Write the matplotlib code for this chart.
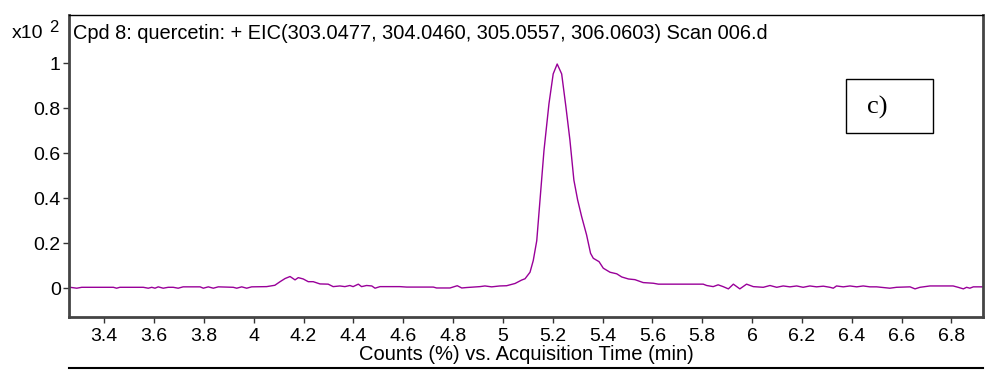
import matplotlib
matplotlib.use('Agg')
import matplotlib.pyplot as plt
from matplotlib.lines import Line2D
from matplotlib.patches import Rectangle
from matplotlib.ticker import FormatStrFormatter

plt.rcParams['font.family'] = ['Liberation Sans', 'DejaVu Sans']

# acquisition time (min) and counts (x10^2)
time = [3.263, 3.290, 3.310, 3.437, 3.450, 3.463, 3.557, 3.577, 3.591, 3.604,
        3.617, 3.637, 3.657, 3.677, 3.697, 3.717, 3.785, 3.798, 3.818, 3.838,
        3.858, 3.918, 3.932, 3.952, 3.972, 3.992, 4.052, 4.085, 4.106, 4.126,
        4.146, 4.166, 4.179, 4.199, 4.219, 4.239, 4.266, 4.299, 4.319, 4.346,
        4.366, 4.386, 4.399, 4.420, 4.433, 4.453, 4.474, 4.487, 4.507, 4.587,
        4.614, 4.721, 4.734, 4.788, 4.817, 4.835, 4.855, 4.908, 4.928, 4.955,
        4.988, 5.015, 5.049, 5.075, 5.089, 5.109, 5.122, 5.136, 5.149, 5.165,
        5.185, 5.202, 5.218, 5.236, 5.253, 5.269, 5.285, 5.300, 5.316, 5.336,
        5.352, 5.363, 5.386, 5.403, 5.430, 5.457, 5.477, 5.504, 5.530, 5.563,
        5.604, 5.624, 5.804, 5.818, 5.844, 5.864, 5.884, 5.905, 5.925, 5.951,
        5.978, 6.005, 6.045, 6.072, 6.099, 6.125, 6.152, 6.179, 6.205, 6.232,
        6.259, 6.286, 6.313, 6.326, 6.339, 6.366, 6.393, 6.420, 6.446, 6.473,
        6.500, 6.526, 6.553, 6.580, 6.634, 6.654, 6.674, 6.714, 6.754, 6.807,
        6.827, 6.848, 6.861, 6.874, 6.888, 6.928]
counts = [0.004, 0.000, 0.004, 0.004, 0.000, 0.004, 0.004, 0.000, 0.004, 0.000,
          0.006, 0.000, 0.004, 0.004, 0.000, 0.006, 0.006, 0.000, 0.006, 0.000,
          0.006, 0.004, 0.000, 0.006, 0.000, 0.006, 0.007, 0.013, 0.029, 0.043,
          0.052, 0.037, 0.047, 0.041, 0.029, 0.029, 0.019, 0.018, 0.007, 0.010,
          0.007, 0.012, 0.007, 0.018, 0.007, 0.012, 0.010, 0.000, 0.007, 0.007,
          0.005, 0.005, 0.001, 0.001, 0.011, 0.001, 0.003, 0.007, 0.010, 0.006,
          0.010, 0.011, 0.021, 0.036, 0.042, 0.071, 0.123, 0.211, 0.390, 0.612,
          0.820, 0.953, 0.997, 0.953, 0.807, 0.660, 0.481, 0.393, 0.319, 0.237,
          0.155, 0.133, 0.118, 0.089, 0.071, 0.064, 0.050, 0.041, 0.038, 0.025,
          0.022, 0.018, 0.018, 0.012, 0.007, 0.015, 0.007, -0.003, 0.018, -0.003,
          0.018, 0.007, 0.004, 0.012, 0.004, 0.010, 0.006, 0.010, 0.004, 0.010,
          0.006, 0.009, 0.004, 0.000, 0.010, 0.006, 0.010, 0.006, 0.010, 0.006,
          0.006, 0.003, 0.000, 0.004, 0.006, -0.003, 0.004, 0.010, 0.010, 0.010,
          0.004, -0.003, 0.004, 0.000, 0.006, 0.006]

x_ticks = [3.4, 3.6, 3.8, 4.0, 4.2, 4.4, 4.6, 4.8, 5.0, 5.2, 5.4, 5.6, 5.8,
           6.0, 6.2, 6.4, 6.6, 6.8]
y_ticks = [0, 0.2, 0.4, 0.6, 0.8, 1.0]

title = 'Cpd 8: quercetin: + EIC(303.0477, 304.0460, 305.0557, 306.0603) Scan 006.d'

fig = plt.figure(figsize=(9.86, 3.71), dpi=100)
ax = fig.add_axes([0.070, 0.1456, 0.927, 0.814])

ax.plot(time, counts, color='#990099', lw=1.0)
ax.set_xlim(3.259, 6.927)
ax.set_ylim(-0.128, 1.215)
ax.set_xticks(x_ticks)
ax.set_yticks(y_ticks)
ax.xaxis.set_major_formatter(FormatStrFormatter('%g'))
ax.yaxis.set_major_formatter(FormatStrFormatter('%g'))
ax.tick_params(labelsize=14, length=4, width=1, pad=2, colors='#333333',
               labelcolor='black')
ax.tick_params(axis='x', pad=4)

for s in ['left', 'bottom', 'right']:
    ax.spines[s].set_linewidth(2)
    ax.spines[s].set_color('#444444')
ax.spines['top'].set_linewidth(1)
ax.spines['top'].set_color('black')

ax.text(4 / 914, 0.970, title, transform=ax.transAxes, fontsize=14.4,
        ha='left', va='top')

fig.text(12 / 986, 1 - 33 / 371, 'x10', fontsize=14, ha='left', va='center')
fig.text(49 / 986, 1 - 28 / 371, '2', fontsize=12, ha='left', va='center')

fig.text(526 / 986, 1 - 355 / 371, 'Counts (%) vs. Acquisition Time (min)',
         fontsize=14.5, ha='center', va='center')

# "c)" label box
fig.patches.append(Rectangle((846 / 986, 1 - 133 / 371), 87 / 986, 54 / 371,
                             transform=fig.transFigure, fill=False,
                             ec='black', lw=1))
fig.text(877 / 986, 1 - 107 / 371, 'c)', fontsize=19, ha='center',
         va='center', family='Liberation Serif')

# top of the next panel below
fig.add_artist(Line2D([69 / 986, 983 / 986], [1 - 368 / 371, 1 - 368 / 371],
                      transform=fig.transFigure, color='black', lw=1.5))

fig.savefig('out.png', dpi=100)
